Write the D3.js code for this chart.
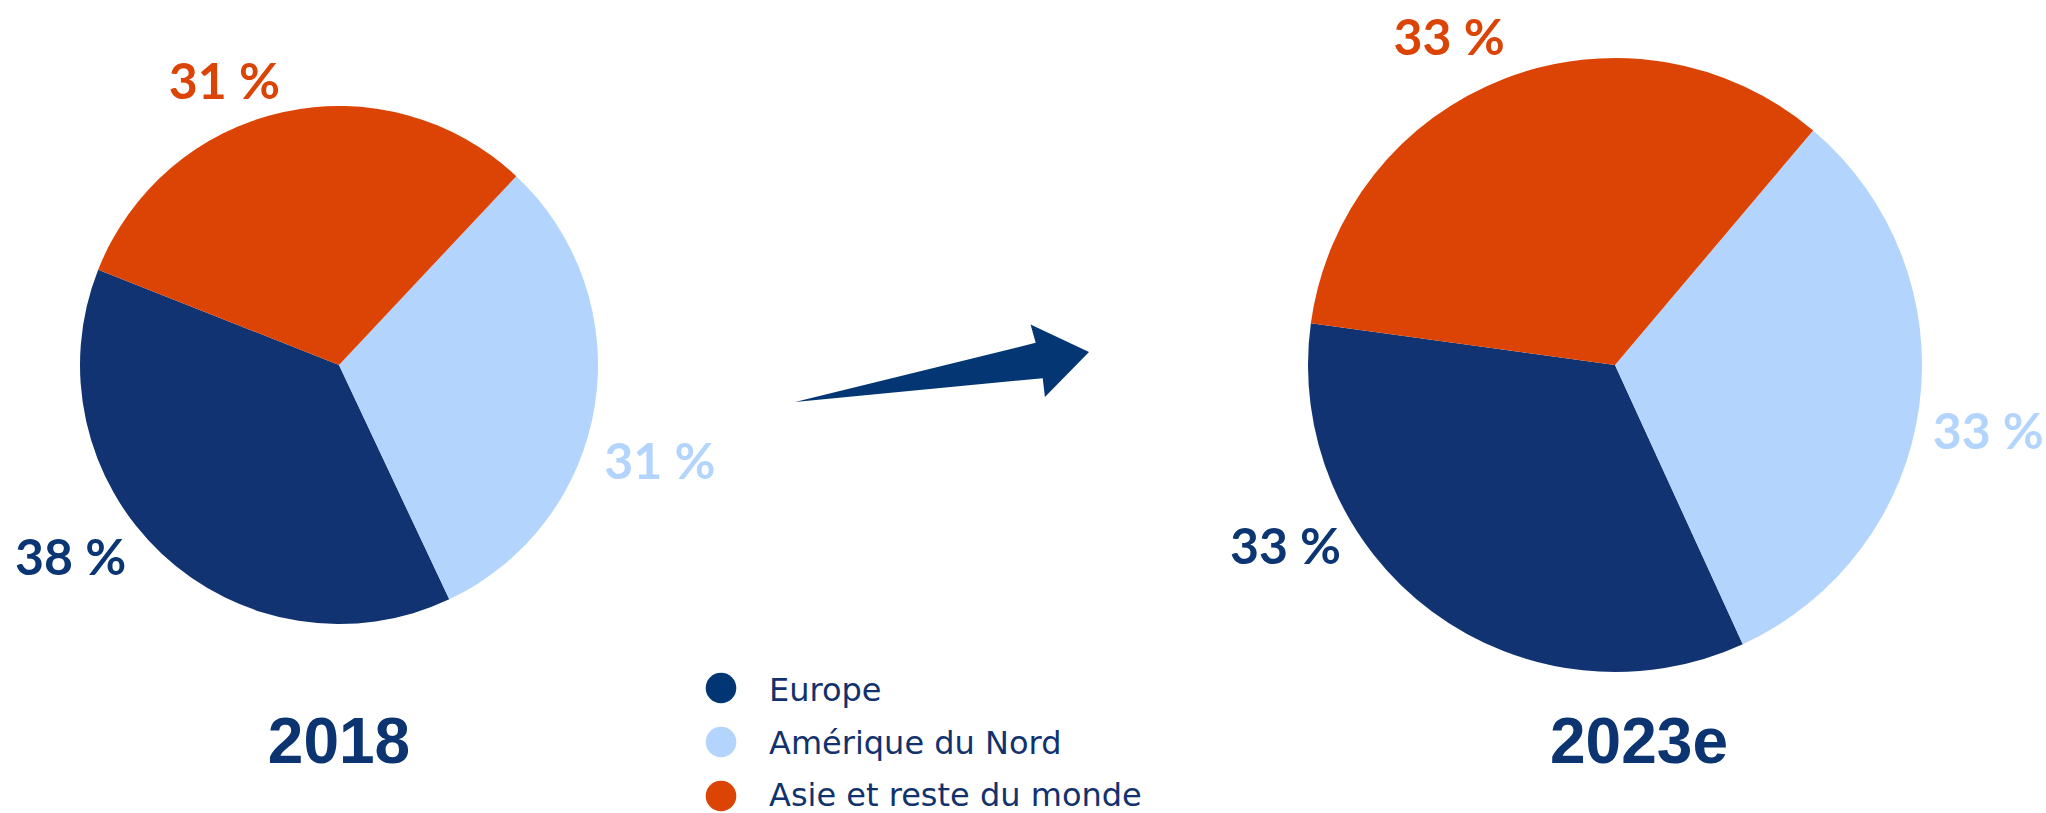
<!DOCTYPE html>
<html lang="fr">
<meta charset="utf-8">
<head>
    <title>Répartition géographique 2018 / 2023e</title>
    <script src="https://d3js.org/d3.v7.min.js"></script>
    <style type="text/css">
        body { margin: 0; background: #fff; }
        .pct { font-family: Lato, "Open Sans", sans-serif; font-weight: 700; font-size: 50px; }
        .year { font-family: "Liberation Sans", Arial, sans-serif; font-weight: 700; font-size: 64px; fill: #0b3470; }
        .legend text { font-family: "DejaVu Sans", sans-serif; font-size: 32px; fill: #12326e; }
    </style>
</head>
<body>
<div id="chart"></div>

<script>
// data
var regions = ["Europe", "Amérique du Nord", "Asie et reste du monde"];
var years = ["2018", "2023e"];
var share2018 = [38, 31, 31];
var share2023 = [34, 32, 34];
var labels2018 = ["38 %", "31 %", "31 %"];
var labels2023 = ["33 %", "33 %", "33 %"];

var sliceColors = ["#123372", "#b3d4fd", "#db4405"];
var legendColors = ["#023574", "#b3d4fd", "#db4405"];
var labelColors = ["#0c3573", "#b3d4fd", "#dc4405"];

var w = 2046, h = 813;

// layout of the two pies (angles in degrees, clockwise from 12 o'clock)
var pies = [
    { cx: 339, cy: 365, r: 259, start: 291.6, values: share2018, labels: labels2018, year: years[0], titleX: 339,
      labelAngle: [234.4, 106.7, 338], labelDist: [330, 335, 306] },
    { cx: 1615, cy: 365, r: 307, start: 277.8, values: share2023, labels: labels2023, year: years[1], titleX: 1639,
      labelAngle: [241.2, 100.0, 333.2], labelDist: [376, 379, 368] }
];

var rad = Math.PI / 180;

var svg = d3.select("#chart")
    .append("svg")
    .attr("width", w)
    .attr("height", h);

pies.forEach(function (p) {
    var pie = d3.pie()
        .sort(null)
        .startAngle(p.start * rad)
        .endAngle((p.start - 360) * rad);   // slices run counter-clockwise

    var arc = d3.arc().innerRadius(0).outerRadius(p.r);

    var g = svg.append("g")
        .attr("transform", "translate(" + p.cx + "," + p.cy + ")");

    g.selectAll("path")
        .data(pie(p.values))
        .enter()
        .append("path")
        .attr("d", arc)
        .attr("fill", function (d, i) { return sliceColors[i]; });

    g.selectAll("text.pct")
        .data(p.labels)
        .enter()
        .append("text")
        .attr("class", "pct")
        .attr("text-anchor", "middle")
        .attr("x", function (d, i) { return p.labelDist[i] * Math.sin(p.labelAngle[i] * rad); })
        .attr("y", function (d, i) { return -p.labelDist[i] * Math.cos(p.labelAngle[i] * rad); })
        .attr("dy", "0.36em")
        .attr("fill", function (d, i) { return labelColors[i]; })
        .text(function (d) { return d; });

    svg.append("text")
        .attr("class", "year")
        .attr("text-anchor", "middle")
        .attr("x", p.titleX)
        .attr("y", 763)
        .text(p.year);
});

// arrow between the two pies
var arrowFrom = [795, 402], arrowTo = [1089, 352];
var headLen = 51, headHalf = 37, shaftHalf = 18;
var ax = arrowTo[0] - arrowFrom[0], ay = arrowTo[1] - arrowFrom[1];
var alen = Math.sqrt(ax * ax + ay * ay);
var ux = ax / alen, uy = ay / alen, nx = -uy, ny = ux;
function along(t, s) {
    return [arrowTo[0] - ux * t + nx * s, arrowTo[1] - uy * t + ny * s];
}
var arrowPts = [arrowFrom, along(headLen, -shaftHalf), along(headLen + 2, -headHalf), arrowTo,
                along(headLen, headHalf), along(headLen - 1, shaftHalf)];
svg.append("path")
    .attr("d", d3.line()(arrowPts) + "Z")
    .attr("fill", "#033673");

// legend
var legend = svg.append("g").attr("class", "legend");
var rows = legend.selectAll("g")
    .data(regions)
    .enter()
    .append("g")
    .attr("transform", function (d, i) { return "translate(721," + (688 + i * 54) + ")"; });
rows.append("circle")
    .attr("r", 15.3)
    .attr("fill", function (d, i) { return legendColors[i]; });
rows.append("text")
    .attr("x", 48)
    .attr("y", function (d, i) { return 13 - i * 1.5; })
    .text(function (d) { return d; });
</script>
</body>
</html>
